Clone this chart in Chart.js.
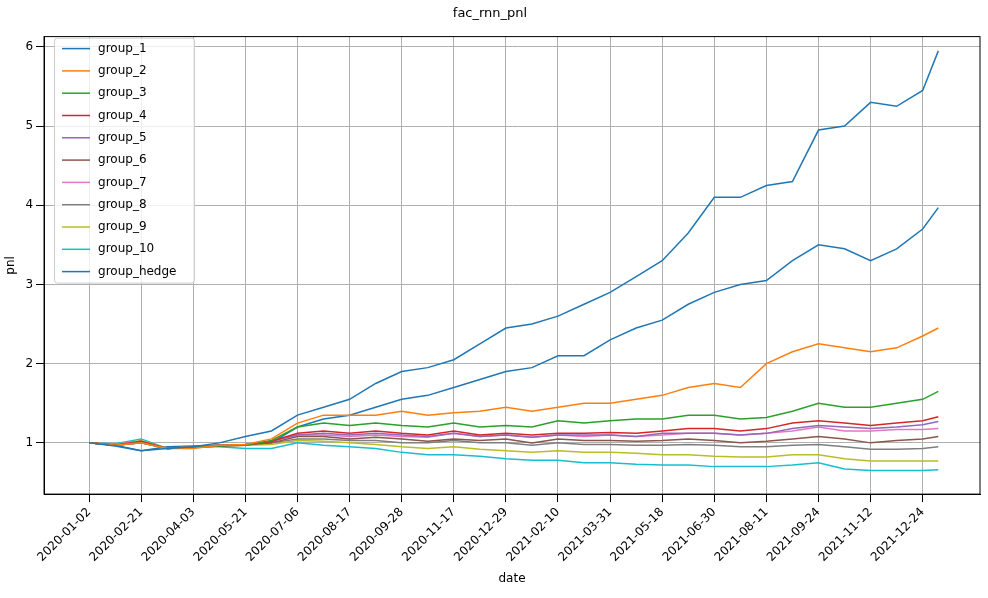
<!DOCTYPE html>
<html><head><meta charset="utf-8">
<script src="https://cdn.jsdelivr.net/npm/chart.js@4"></script>
<style>body{margin:0;background:#fff}#w{width:988px;height:598px}</style>
</head><body><div id="w"><canvas id="c"></canvas></div>
<script>
const tickLabels=["2020-01-02","2020-02-21","2020-04-03","2020-05-21","2020-07-06","2020-08-17","2020-09-28","2020-11-17","2020-12-29","2021-02-10","2021-03-31","2021-05-18","2021-06-30","2021-08-11","2021-09-24","2021-11-12","2021-12-24"];
const xPos=[0,1,2,3,4,5,6,7,8,9,10,11,12,13,14,15,16,17,18,19,20,21,22,23,24,25,26,27,28,29,30,31,32,32.6];
const group_1=[1,0.96,0.9,0.93,0.95,1.0,1.08,1.15,1.35,1.45,1.55,1.75,1.9,1.95,2.05,2.25,2.45,2.5,2.6,2.75,2.9,3.1,3.3,3.65,4.1,4.1,4.25,4.3,4.95,5.0,5.3,5.25,5.45,5.95];
const group_2=[1,0.97,1.0,0.93,0.93,0.97,0.98,1.05,1.25,1.35,1.35,1.35,1.4,1.35,1.38,1.4,1.45,1.4,1.45,1.5,1.5,1.55,1.6,1.7,1.75,1.7,2.0,2.15,2.25,2.2,2.15,2.2,2.35,2.45];
const group_3=[1,0.97,1.0,0.93,0.94,0.96,0.97,1.03,1.2,1.25,1.22,1.25,1.22,1.2,1.25,1.2,1.22,1.2,1.28,1.25,1.28,1.3,1.3,1.35,1.35,1.3,1.32,1.4,1.5,1.45,1.45,1.5,1.55,1.65];
const group_4=[1,0.97,1.02,0.93,0.94,0.96,0.97,1.02,1.12,1.15,1.12,1.15,1.12,1.1,1.15,1.1,1.12,1.1,1.12,1.12,1.13,1.12,1.15,1.18,1.18,1.15,1.18,1.25,1.28,1.25,1.22,1.25,1.28,1.33];
const group_5=[1,0.97,1.0,0.93,0.94,0.97,0.98,1.02,1.1,1.12,1.1,1.12,1.1,1.08,1.12,1.08,1.1,1.07,1.1,1.1,1.1,1.08,1.12,1.12,1.12,1.1,1.12,1.18,1.22,1.2,1.18,1.2,1.23,1.27];
const group_6=[1,0.97,1.0,0.93,0.95,0.97,0.98,1.0,1.08,1.08,1.05,1.07,1.05,1.02,1.05,1.03,1.05,1.0,1.05,1.03,1.03,1.02,1.03,1.05,1.03,1.0,1.02,1.05,1.08,1.05,1.0,1.03,1.05,1.08];
const group_7=[1,0.98,1.02,0.93,0.95,0.97,0.98,1.02,1.1,1.1,1.08,1.1,1.08,1.07,1.12,1.08,1.1,1.07,1.1,1.08,1.1,1.08,1.1,1.12,1.12,1.1,1.12,1.15,1.2,1.15,1.15,1.17,1.17,1.18];
const group_8=[1,0.98,1.02,0.93,0.95,0.97,0.98,1.0,1.05,1.05,1.03,1.03,1.0,1.0,1.03,1.0,1.0,0.97,1.0,0.98,0.98,0.97,0.97,0.98,0.97,0.95,0.95,0.97,0.98,0.95,0.92,0.92,0.93,0.95];
const group_9=[1,0.98,1.03,0.93,0.95,0.97,0.97,0.98,1.03,1.02,1.0,0.98,0.95,0.93,0.95,0.92,0.9,0.88,0.9,0.88,0.88,0.87,0.85,0.85,0.83,0.82,0.82,0.85,0.85,0.8,0.77,0.77,0.77,0.77];
const group_10=[1,0.99,1.05,0.93,0.95,0.95,0.93,0.93,1.0,0.97,0.95,0.93,0.88,0.85,0.85,0.83,0.8,0.78,0.78,0.75,0.75,0.73,0.72,0.72,0.7,0.7,0.7,0.72,0.75,0.67,0.65,0.65,0.65,0.66];
const group_hedge=[1,0.97,0.9,0.95,0.96,0.97,0.97,1.0,1.2,1.3,1.35,1.45,1.55,1.6,1.7,1.8,1.9,1.95,2.1,2.1,2.3,2.45,2.55,2.75,2.9,3.0,3.05,3.3,3.5,3.45,3.3,3.45,3.7,3.97];
const names=["group_1","group_2","group_3","group_4","group_5","group_6","group_7","group_8","group_9","group_10","group_hedge"];
const series=[group_1,group_2,group_3,group_4,group_5,group_6,group_7,group_8,group_9,group_10,group_hedge];
const colors=["#1f77b4","#ff7f0e","#2ca02c","#d62728","#9467bd","#8c564b","#e377c2","#7f7f7f","#bcbd22","#17becf","#1f77b4"];
const datasets=series.map((s,i)=>({label:names[i],data:s.map((v,j)=>({x:xPos[j],y:v})),borderColor:colors[i],borderWidth:1.5,pointRadius:0,tension:0}));
const legendPlugin={id:'lg',afterDraw(ch){const c=ch.ctx,a=ch.chartArea;c.save();c.strokeStyle='#000';c.lineWidth=1;c.strokeRect(a.left,a.top,a.right-a.left,a.bottom-a.top);
const x=a.left+10,y=a.top+0,w=140,h=245;c.fillStyle='rgba(255,255,255,0.8)';c.strokeStyle='#ccc';
c.beginPath();c.roundRect(x+0.5,y+1.5,w,h,3);c.fill();c.stroke();c.font='12px "DejaVu Sans"';c.textBaseline='middle';
names.forEach((n,i)=>{const yy=y+12+i*22.3;c.strokeStyle=colors[i];c.lineWidth=1.5;c.beginPath();c.moveTo(x+8,yy);c.lineTo(x+36,yy);c.stroke();c.fillStyle='#000';c.fillText(n,x+44,yy);});c.restore();}};
new Chart(document.getElementById('c'),{type:'line',data:{datasets},plugins:[legendPlugin],
options:{responsive:true,maintainAspectRatio:false,animation:false,layout:{padding:{left:0,right:8,top:0,bottom:8}},
plugins:{legend:{display:false},tooltip:{enabled:false},title:{display:true,text:'fac_rnn_pnl',color:'#000',font:{family:'DejaVu Sans',size:13,weight:'normal'},padding:{top:6,bottom:15}}},
scales:{x:{type:'linear',min:-1.73,max:34.2,afterBuildTicks(a){a.ticks=tickLabels.map((_,i)=>({value:i*2}));},
ticks:{autoSkip:false,maxRotation:45,minRotation:45,color:'#000',font:{family:'DejaVu Sans',size:12},callback:(v)=>tickLabels[Math.round(v/2)]},
grid:{color:'#b0b0b0',drawTicks:true,tickColor:'#000'},border:{color:'#000'},title:{display:true,text:'date',color:'#000',font:{family:'DejaVu Sans',size:12}}},
y:{min:0.353,max:6.13,afterBuildTicks(a){a.ticks=[1,2,3,4,5,6].map(v=>({value:v}));},ticks:{color:'#000',font:{family:'DejaVu Sans',size:12}},
grid:{color:'#b0b0b0',tickColor:'#000'},border:{color:'#000'},title:{display:true,text:'pnl',color:'#000',font:{family:'DejaVu Sans',size:12}}}}}});
</script></body></html>
